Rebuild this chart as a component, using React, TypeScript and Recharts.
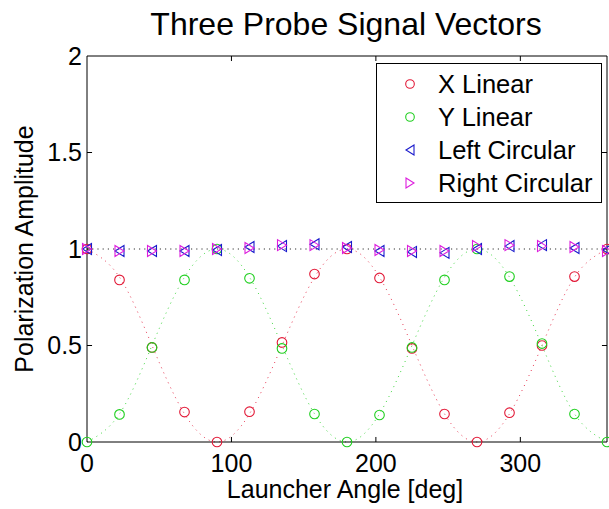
import React from "react";
import {
  ComposedChart,
  Line,
  ReferenceLine,
  Scatter,
  XAxis,
  YAxis,
} from "recharts";

const FONT = "'Liberation Sans', Arial, sans-serif";

// launcher angles in degrees
const angles = [0, 22.5, 45, 67.5, 90, 112.5, 135, 157.5, 180, 202.5, 225, 247.5, 270, 292.5, 315, 337.5, 360];

// measured probe amplitudes
const xLinear = [1.0, 0.84, 0.49, 0.155, 0.0, 0.157, 0.516, 0.87, 1.0, 0.85, 0.485, 0.145, 0.0, 0.152, 0.5, 0.857, 1.0];
const yLinear = [0.0, 0.143, 0.49, 0.84, 1.0, 0.848, 0.485, 0.145, 0.0, 0.14, 0.49, 0.84, 1.0, 0.857, 0.51, 0.145, 0.0];
const leftCircular = [1.0, 0.99, 0.99, 0.99, 0.995, 1.01, 1.015, 1.025, 1.01, 0.99, 0.985, 0.98, 1.0, 1.015, 1.02, 1.005, 0.995];
const rightCircular = [1.0, 0.99, 0.99, 0.99, 1.0, 1.005, 1.02, 1.02, 1.005, 0.995, 0.99, 0.99, 1.015, 1.02, 1.015, 1.01, 0.99];

// expected (theory) curves, dotted
const xTheory = [1, 0.854, 0.5, 0.146, 0, 0.146, 0.5, 0.854, 1, 0.854, 0.5, 0.146, 0, 0.146, 0.5, 0.854, 1];
const yTheory = [0, 0.146, 0.5, 0.854, 1, 0.854, 0.5, 0.146, 0, 0.146, 0.5, 0.854, 1, 0.854, 0.5, 0.146, 0];
const circTheory = [1, 1, 1, 1, 1, 1, 1, 1, 1, 1, 1, 1, 1, 1, 1, 1, 1];

const xTicks = [0, 100, 200, 300];
const yTicks = [0, 0.5, 1, 1.5, 2];

const RED = "#e21836";
const GREEN = "#1fcf1f";
const BLUE = "#1a1acc";
const MAGENTA = "#dd1edd";

const rows = angles.map((a, i) => ({
  angle: a,
  xLin: xLinear[i],
  yLin: yLinear[i],
  lCirc: leftCircular[i],
  rCirc: rightCircular[i],
  xTh: xTheory[i],
  yTh: yTheory[i],
  cTh: circTheory[i],
}));

const circle = (color: string) => (p: any) =>
  <circle cx={p.cx} cy={p.cy} r={4.8} fill="none" stroke={color} strokeWidth={1.1} />;

const triLeft = (color: string) => (p: any) =>
  <polygon
    points={`${p.cx - 4.5},${p.cy} ${p.cx + 4.5},${p.cy - 5.5} ${p.cx + 4.5},${p.cy + 5.5}`}
    fill="none" stroke={color} strokeWidth={1.1} />;

const triRight = (color: string) => (p: any) =>
  <polygon
    points={`${p.cx + 4.5},${p.cy} ${p.cx - 4.5},${p.cy - 5.5} ${p.cx - 4.5},${p.cy + 5.5}`}
    fill="none" stroke={color} strokeWidth={1.1} />;

const legendItems = [
  { label: "X Linear", color: RED, kind: "circle" },
  { label: "Y Linear", color: GREEN, kind: "circle" },
  { label: "Left Circular", color: BLUE, kind: "left" },
  { label: "Right Circular", color: MAGENTA, kind: "right" },
];

function LegendBox() {
  return (
    <svg width={227} height={141} style={{ position: "absolute", left: 376, top: 63 }}>
      <rect x={0.5} y={0.5} width={225} height={139} fill="#fff" stroke="#000" />
      {legendItems.map((it, i) => {
        const cy = 21 + i * 33;
        const cx = 34;
        let mark;
        if (it.kind === "circle") mark = <circle cx={cx} cy={cy} r={4.3} fill="none" stroke={it.color} strokeWidth={1.1} />;
        else if (it.kind === "left")
          mark = <polygon points={`${cx - 4},${cy} ${cx + 4},${cy - 5} ${cx + 4},${cy + 5}`} fill="none" stroke={it.color} strokeWidth={1.1} />;
        else
          mark = <polygon points={`${cx + 4},${cy} ${cx - 4},${cy - 5} ${cx - 4},${cy + 5}`} fill="none" stroke={it.color} strokeWidth={1.1} />;
        return (
          <g key={it.label}>
            {mark}
            <text x={62} y={cy + 9} fontSize={25.5} fontFamily={FONT} fill="#000">{it.label}</text>
          </g>
        );
      })}
    </svg>
  );
}

export default function App() {
  return (
    <div style={{ position: "absolute", left: 0, top: 0, width: 609, height: 509, background: "#fff" }}>
      <ComposedChart
        width={609}
        height={509}
        data={rows}
        margin={{ top: 56, right: 2, bottom: 0, left: 0 }}
      >
        <XAxis
          type="number"
          dataKey="angle"
          domain={[0, 360]}
          ticks={xTicks}
          height={67}
          tickLine={false}
          tickSize={0}
          tickMargin={12}
          axisLine={{ stroke: "#000" }}
          tick={{ fontSize: 25, fill: "#000", fontFamily: FONT }}
        />
        <YAxis
          type="number"
          domain={[0, 2]}
          ticks={yTicks}
          width={87}
          tickLine={false}
          tickSize={0}
          tickMargin={5}
          axisLine={{ stroke: "#000" }}
          tick={{ fontSize: 25, fill: "#000", fontFamily: FONT }}
        />
        <ReferenceLine y={2} stroke="#000" />
        <ReferenceLine x={360} stroke="#000" />
        {xTicks.slice(1).map((t) => (
          <ReferenceLine key={"xb" + t} segment={[{ x: t, y: 0 }, { x: t, y: 0.026 }]} stroke="#000" />
        ))}
        {xTicks.slice(1).map((t) => (
          <ReferenceLine key={"xt" + t} segment={[{ x: t, y: 2 }, { x: t, y: 1.974 }]} stroke="#000" />
        ))}
        {yTicks.slice(1, -1).map((t) => (
          <ReferenceLine key={"yl" + t} segment={[{ x: 0, y: t }, { x: 3.5, y: t }]} stroke="#000" />
        ))}
        {yTicks.slice(1, -1).map((t) => (
          <ReferenceLine key={"yr" + t} segment={[{ x: 360, y: t }, { x: 356.5, y: t }]} stroke="#000" />
        ))}
        <Line dataKey="xTh" type="natural" stroke={RED} strokeOpacity={0.85} strokeWidth={1} strokeDasharray="1 4.5" dot={false} activeDot={false} isAnimationActive={false} />
        <Line dataKey="yTh" type="natural" stroke={GREEN} strokeOpacity={0.85} strokeWidth={1} strokeDasharray="1 4.5" dot={false} activeDot={false} isAnimationActive={false} />
        <Line dataKey="cTh" type="linear" stroke="#333" strokeWidth={1} strokeDasharray="1.2 4" dot={false} activeDot={false} isAnimationActive={false} />
        <Scatter dataKey="xLin" shape={circle(RED)} isAnimationActive={false} />
        <Scatter dataKey="yLin" shape={circle(GREEN)} isAnimationActive={false} />
        <Scatter dataKey="lCirc" shape={triLeft(BLUE)} isAnimationActive={false} />
        <Scatter dataKey="rCirc" shape={triRight(MAGENTA)} isAnimationActive={false} />
      </ComposedChart>
      <svg width={609} height={509} style={{ position: "absolute", left: 0, top: 0, pointerEvents: "none" }}>
        <text x={346} y={35} textAnchor="middle" fontSize={32} fontFamily={FONT} fill="#000">
          Three Probe Signal Vectors
        </text>
        <text x={345} y={498} textAnchor="middle" fontSize={25} fontFamily={FONT} fill="#000">
          Launcher Angle [deg]
        </text>
        <text transform="translate(33 249) rotate(-90)" textAnchor="middle" fontSize={25} fontFamily={FONT} fill="#000">
          Polarization Amplitude
        </text>
      </svg>
      <LegendBox />
    </div>
  );
}
